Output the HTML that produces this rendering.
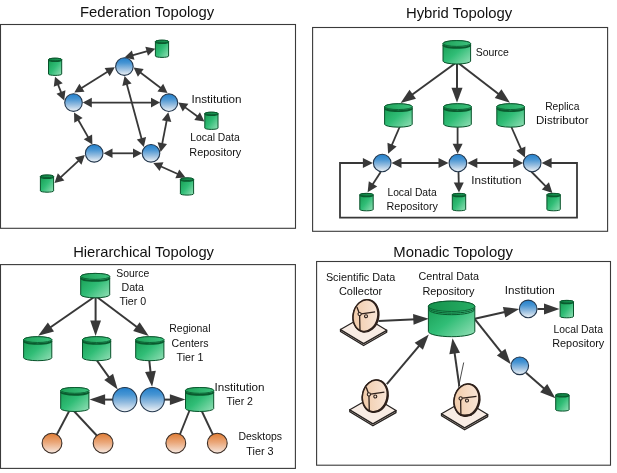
<!DOCTYPE html>
<html lang="en">
<head>
<meta charset="utf-8">
<title>Data Topologies</title>
<style>
html,body{margin:0;padding:0;background:#fff;}
body{width:617px;height:473px;overflow:hidden;}
svg{display:block;font-family:"Liberation Sans",sans-serif;will-change:transform;opacity:0.999;filter:blur(0.4px);}
</style>
</head>
<body>
<svg width="617" height="473" viewBox="0 0 617 473">
<defs>
<linearGradient id="gb" x1="0" y1="0" x2="0" y2="1"><stop offset="0" stop-color="#217fcb"/><stop offset="0.3" stop-color="#4895d3"/><stop offset="0.62" stop-color="#94bcdf"/><stop offset="1" stop-color="#f0f3f6"/></linearGradient>
<linearGradient id="go" x1="0" y1="0" x2="0" y2="1"><stop offset="0" stop-color="#df7c34"/><stop offset="0.45" stop-color="#eaa678"/><stop offset="1" stop-color="#f6e8e0"/></linearGradient>
<linearGradient id="gg" x1="0" y1="0" x2="1" y2="1"><stop offset="0" stop-color="#14994e"/><stop offset="0.5" stop-color="#30bd76"/><stop offset="1" stop-color="#96e0b8"/></linearGradient>
<linearGradient id="gt" x1="0" y1="0" x2="1" y2="0"><stop offset="0" stop-color="#1fa35a"/><stop offset="1" stop-color="#3cc07c"/></linearGradient>
<linearGradient id="gt2" x1="0" y1="0" x2="1" y2="0"><stop offset="0" stop-color="#0f7d42"/><stop offset="1" stop-color="#1a9a55"/></linearGradient>
<linearGradient id="gt3" x1="0" y1="0" x2="1" y2="0"><stop offset="0" stop-color="#15924c"/><stop offset="1" stop-color="#27ad64"/></linearGradient>
<linearGradient id="gd" x1="0" y1="0.6" x2="1" y2="0.3"><stop offset="0" stop-color="#f1cba9"/><stop offset="1" stop-color="#f9e6d8"/></linearGradient>
</defs>
<rect width="617" height="473" fill="#fff"/>
<rect x="0.5" y="24.5" width="295.00" height="203.80" fill="#fff" stroke="#3a3a3a" stroke-width="1.1"/>
<rect x="312.6" y="27.5" width="295.00" height="203.80" fill="#fff" stroke="#3a3a3a" stroke-width="1.1"/>
<rect x="0.5" y="264.6" width="294.90" height="203.80" fill="#fff" stroke="#3a3a3a" stroke-width="1.1"/>
<rect x="316.6" y="261.5" width="293.90" height="203.70" fill="#fff" stroke="#3a3a3a" stroke-width="1.1"/>
<text x="80.0" y="17.2" font-size="14.8" text-anchor="start" textLength="134.2" lengthAdjust="spacingAndGlyphs" fill="#111">Federation Topology</text>
<text x="405.9" y="17.6" font-size="14.8" text-anchor="start" textLength="106.4" lengthAdjust="spacingAndGlyphs" fill="#111">Hybrid Topology</text>
<text x="73.2" y="256.9" font-size="14.8" text-anchor="start" textLength="140.8" lengthAdjust="spacingAndGlyphs" fill="#111">Hierarchical Topology</text>
<text x="393.3" y="257.3" font-size="14.8" text-anchor="start" textLength="119.6" lengthAdjust="spacingAndGlyphs" fill="#111">Monadic Topology</text>
<line x1="131.43" y1="55.54" x2="148.37" y2="50.76" stroke="#383838" stroke-width="1.8"/>
<polygon points="155.30,48.80 147.94,55.87 145.33,46.63" fill="#383838"/>
<polygon points="124.50,57.50 134.47,59.67 131.86,50.43" fill="#383838"/>
<line x1="139.35" y1="71.83" x2="161.75" y2="88.67" stroke="#383838" stroke-width="1.8"/>
<polygon points="167.50,93.00 157.42,91.43 163.19,83.75" fill="#383838"/>
<polygon points="133.60,67.50 137.91,76.75 143.68,69.07" fill="#383838"/>
<line x1="108.69" y1="71.10" x2="80.41" y2="88.70" stroke="#383838" stroke-width="1.8"/>
<polygon points="74.30,92.50 79.41,83.67 84.48,91.82" fill="#383838"/>
<polygon points="114.80,67.30 104.62,67.98 109.69,76.13" fill="#383838"/>
<line x1="126.48" y1="82.95" x2="141.92" y2="140.05" stroke="#383838" stroke-width="1.8"/>
<polygon points="143.80,147.00 136.82,139.57 146.08,137.06" fill="#383838"/>
<polygon points="124.60,76.00 122.32,85.94 131.58,83.43" fill="#383838"/>
<line x1="90.00" y1="102.60" x2="152.80" y2="102.60" stroke="#383838" stroke-width="1.8"/>
<polygon points="160.00,102.60 151.00,107.40 151.00,97.80" fill="#383838"/>
<polygon points="82.80,102.60 91.80,107.40 91.80,97.80" fill="#383838"/>
<line x1="77.58" y1="118.75" x2="88.82" y2="138.35" stroke="#383838" stroke-width="1.8"/>
<polygon points="92.40,144.60 83.76,139.18 92.09,134.40" fill="#383838"/>
<polygon points="74.00,112.50 74.31,122.70 82.64,117.92" fill="#383838"/>
<line x1="61.60" y1="93.78" x2="57.60" y2="83.42" stroke="#383838" stroke-width="1.8"/>
<polygon points="55.00,76.70 62.72,83.36 53.77,86.83" fill="#383838"/>
<polygon points="64.20,100.50 65.43,90.37 56.48,93.84" fill="#383838"/>
<line x1="166.93" y1="119.37" x2="161.97" y2="144.93" stroke="#383838" stroke-width="1.8"/>
<polygon points="160.60,152.00 157.60,142.25 167.03,144.08" fill="#383838"/>
<polygon points="168.30,112.30 161.87,120.22 171.30,122.05" fill="#383838"/>
<line x1="184.12" y1="106.64" x2="198.58" y2="117.16" stroke="#383838" stroke-width="1.8"/>
<polygon points="204.40,121.40 194.30,119.98 199.95,112.22" fill="#383838"/>
<polygon points="178.30,102.40 182.75,111.58 188.40,103.82" fill="#383838"/>
<line x1="110.70" y1="153.30" x2="134.80" y2="153.30" stroke="#383838" stroke-width="1.8"/>
<polygon points="142.00,153.30 133.00,158.10 133.00,148.50" fill="#383838"/>
<polygon points="103.50,153.30 112.50,158.10 112.50,148.50" fill="#383838"/>
<line x1="79.51" y1="159.89" x2="59.79" y2="178.11" stroke="#383838" stroke-width="1.8"/>
<polygon points="54.50,183.00 57.85,173.37 64.37,180.42" fill="#383838"/>
<polygon points="84.80,155.00 74.93,157.58 81.45,164.63" fill="#383838"/>
<line x1="159.87" y1="165.96" x2="178.93" y2="174.54" stroke="#383838" stroke-width="1.8"/>
<polygon points="185.50,177.50 175.32,178.18 179.26,169.43" fill="#383838"/>
<polygon points="153.30,163.00 159.54,171.07 163.48,162.32" fill="#383838"/>
<circle cx="124.4" cy="66.6" r="8.8" fill="url(#gb)" stroke="#22364c" stroke-width="1.1"/>
<circle cx="73.5" cy="102.6" r="8.8" fill="url(#gb)" stroke="#22364c" stroke-width="1.1"/>
<circle cx="168.9" cy="102.7" r="8.8" fill="url(#gb)" stroke="#22364c" stroke-width="1.1"/>
<circle cx="94.2" cy="153.3" r="8.8" fill="url(#gb)" stroke="#22364c" stroke-width="1.1"/>
<circle cx="151" cy="153.3" r="8.8" fill="url(#gb)" stroke="#22364c" stroke-width="1.1"/>
<path d="M155.40,41.50 L155.40,56.10 A6.60,1.30 0 0 0 168.60,56.10 L168.60,41.50 A6.60,1.30 0 0 0 155.40,41.50 Z" fill="url(#gg)" stroke="#08522a" stroke-width="1"/>
<ellipse cx="162.00" cy="41.50" rx="6.60" ry="1.30" fill="url(#gt2)" stroke="#08522a" stroke-width="0.8"/>
<path d="M155.70,42.10 A6.30,1.30 0 0 0 168.30,42.10" fill="none" stroke="#0a5a2e" stroke-width="1.4"/>
<path d="M48.50,59.50 L48.50,74.10 A6.60,1.30 0 0 0 61.70,74.10 L61.70,59.50 A6.60,1.30 0 0 0 48.50,59.50 Z" fill="url(#gg)" stroke="#08522a" stroke-width="1"/>
<ellipse cx="55.10" cy="59.50" rx="6.60" ry="1.30" fill="url(#gt2)" stroke="#08522a" stroke-width="0.8"/>
<path d="M48.80,60.10 A6.30,1.30 0 0 0 61.40,60.10" fill="none" stroke="#0a5a2e" stroke-width="1.4"/>
<path d="M204.80,113.50 L204.80,128.10 A6.60,1.30 0 0 0 218.00,128.10 L218.00,113.50 A6.60,1.30 0 0 0 204.80,113.50 Z" fill="url(#gg)" stroke="#08522a" stroke-width="1"/>
<ellipse cx="211.40" cy="113.50" rx="6.60" ry="1.30" fill="url(#gt2)" stroke="#08522a" stroke-width="0.8"/>
<path d="M205.10,114.10 A6.30,1.30 0 0 0 217.70,114.10" fill="none" stroke="#0a5a2e" stroke-width="1.4"/>
<path d="M40.40,176.30 L40.40,190.90 A6.60,1.30 0 0 0 53.60,190.90 L53.60,176.30 A6.60,1.30 0 0 0 40.40,176.30 Z" fill="url(#gg)" stroke="#08522a" stroke-width="1"/>
<ellipse cx="47.00" cy="176.30" rx="6.60" ry="1.30" fill="url(#gt2)" stroke="#08522a" stroke-width="0.8"/>
<path d="M40.70,176.90 A6.30,1.30 0 0 0 53.30,176.90" fill="none" stroke="#0a5a2e" stroke-width="1.4"/>
<path d="M180.40,179.20 L180.40,193.80 A6.60,1.30 0 0 0 193.60,193.80 L193.60,179.20 A6.60,1.30 0 0 0 180.40,179.20 Z" fill="url(#gg)" stroke="#08522a" stroke-width="1"/>
<ellipse cx="187.00" cy="179.20" rx="6.60" ry="1.30" fill="url(#gt2)" stroke="#08522a" stroke-width="0.8"/>
<path d="M180.70,179.80 A6.30,1.30 0 0 0 193.30,179.80" fill="none" stroke="#0a5a2e" stroke-width="1.4"/>
<text x="191.5" y="103.0" font-size="11.4" text-anchor="start" textLength="50.0" lengthAdjust="spacingAndGlyphs" fill="#111">Institution</text>
<text x="190.2" y="140.8" font-size="11.4" text-anchor="start" textLength="49.5" lengthAdjust="spacingAndGlyphs" fill="#111">Local Data</text>
<text x="189.3" y="155.5" font-size="11.4" text-anchor="start" textLength="52.0" lengthAdjust="spacingAndGlyphs" fill="#111">Repository</text>
<line x1="457.00" y1="62.00" x2="410.31" y2="95.94" stroke="#383838" stroke-width="2.0"/>
<polygon points="400.60,103.00 409.50,89.73 415.97,98.63" fill="#383838"/>
<line x1="457.00" y1="62.00" x2="457.00" y2="90.80" stroke="#383838" stroke-width="2.0"/>
<polygon points="457.00,102.80 451.50,87.80 462.50,87.80" fill="#383838"/>
<line x1="457.00" y1="62.00" x2="500.49" y2="95.48" stroke="#383838" stroke-width="2.0"/>
<polygon points="510.00,102.80 494.76,98.01 501.47,89.29" fill="#383838"/>
<line x1="400.50" y1="125.00" x2="391.26" y2="146.45" stroke="#383838" stroke-width="1.8"/>
<polygon points="388.10,153.80 387.46,142.64 396.65,146.59" fill="#383838"/>
<line x1="457.60" y1="125.00" x2="457.60" y2="145.80" stroke="#383838" stroke-width="1.8"/>
<polygon points="457.60,153.80 452.60,143.80 462.60,143.80" fill="#383838"/>
<line x1="510.50" y1="125.00" x2="521.67" y2="150.28" stroke="#383838" stroke-width="1.8"/>
<polygon points="524.90,157.60 516.29,150.47 525.43,146.43" fill="#383838"/>
<line x1="399.50" y1="163.00" x2="440.50" y2="163.00" stroke="#383838" stroke-width="1.8"/>
<polygon points="448.50,163.00 438.50,168.00 438.50,158.00" fill="#383838"/>
<polygon points="391.50,163.00 401.50,168.00 401.50,158.00" fill="#383838"/>
<line x1="475.30" y1="163.00" x2="515.20" y2="163.00" stroke="#383838" stroke-width="1.8"/>
<polygon points="523.20,163.00 513.20,168.00 513.20,158.00" fill="#383838"/>
<polygon points="467.30,163.00 477.30,168.00 477.30,158.00" fill="#383838"/>
<line x1="380.70" y1="172.00" x2="371.94" y2="185.58" stroke="#383838" stroke-width="1.8"/>
<polygon points="367.60,192.30 368.82,181.19 377.22,186.61" fill="#383838"/>
<line x1="458.50" y1="172.00" x2="458.80" y2="184.50" stroke="#383838" stroke-width="1.8"/>
<polygon points="459.00,192.50 453.76,182.62 463.75,182.38" fill="#383838"/>
<line x1="531.20" y1="171.50" x2="546.78" y2="187.30" stroke="#383838" stroke-width="1.8"/>
<polygon points="552.40,193.00 541.82,189.39 548.94,182.37" fill="#383838"/>
<path d="M366,163 L340,163 L340,217.7 L577,217.7 L577,163 L548,163" fill="none" stroke="#383838" stroke-width="1.8" stroke-linejoin="miter"/>
<line x1="360.00" y1="163.00" x2="364.90" y2="163.00" stroke="#383838" stroke-width="1.8"/>
<polygon points="372.90,163.00 362.90,168.00 362.90,158.00" fill="#383838"/>
<line x1="556.00" y1="163.00" x2="549.60" y2="163.00" stroke="#383838" stroke-width="1.8"/>
<polygon points="541.60,163.00 551.60,158.00 551.60,168.00" fill="#383838"/>
<path d="M443.00,43.50 L443.00,61.10 A13.80,2.90 0 0 0 470.60,61.10 L470.60,43.50 A13.80,2.90 0 0 0 443.00,43.50 Z" fill="url(#gg)" stroke="#08522a" stroke-width="1"/>
<ellipse cx="456.80" cy="43.50" rx="13.80" ry="2.90" fill="url(#gt)" stroke="#08522a" stroke-width="0.8"/>
<path d="M443.30,45.00 A13.50,2.90 0 0 0 470.30,45.00" fill="none" stroke="#0a5a2e" stroke-width="1.7"/>
<path d="M384.60,106.65 L384.60,124.25 A13.80,2.90 0 0 0 412.20,124.25 L412.20,106.65 A13.80,2.90 0 0 0 384.60,106.65 Z" fill="url(#gg)" stroke="#08522a" stroke-width="1"/>
<ellipse cx="398.40" cy="106.65" rx="13.80" ry="2.90" fill="url(#gt)" stroke="#08522a" stroke-width="0.8"/>
<path d="M384.90,108.15 A13.50,2.90 0 0 0 411.90,108.15" fill="none" stroke="#0a5a2e" stroke-width="1.7"/>
<path d="M443.70,106.65 L443.70,124.25 A13.80,2.90 0 0 0 471.30,124.25 L471.30,106.65 A13.80,2.90 0 0 0 443.70,106.65 Z" fill="url(#gg)" stroke="#08522a" stroke-width="1"/>
<ellipse cx="457.50" cy="106.65" rx="13.80" ry="2.90" fill="url(#gt)" stroke="#08522a" stroke-width="0.8"/>
<path d="M444.00,108.15 A13.50,2.90 0 0 0 471.00,108.15" fill="none" stroke="#0a5a2e" stroke-width="1.7"/>
<path d="M496.80,106.65 L496.80,124.25 A13.80,2.90 0 0 0 524.40,124.25 L524.40,106.65 A13.80,2.90 0 0 0 496.80,106.65 Z" fill="url(#gg)" stroke="#08522a" stroke-width="1"/>
<ellipse cx="510.60" cy="106.65" rx="13.80" ry="2.90" fill="url(#gt)" stroke="#08522a" stroke-width="0.8"/>
<path d="M497.10,108.15 A13.50,2.90 0 0 0 524.10,108.15" fill="none" stroke="#0a5a2e" stroke-width="1.7"/>
<circle cx="382.2" cy="163" r="8.8" fill="url(#gb)" stroke="#22364c" stroke-width="1.1"/>
<circle cx="457.9" cy="163" r="8.8" fill="url(#gb)" stroke="#22364c" stroke-width="1.1"/>
<circle cx="532.2" cy="163" r="8.8" fill="url(#gb)" stroke="#22364c" stroke-width="1.1"/>
<path d="M359.80,194.70 L359.80,209.50 A6.70,1.30 0 0 0 373.20,209.50 L373.20,194.70 A6.70,1.30 0 0 0 359.80,194.70 Z" fill="url(#gg)" stroke="#08522a" stroke-width="1"/>
<ellipse cx="366.50" cy="194.70" rx="6.70" ry="1.30" fill="url(#gt2)" stroke="#08522a" stroke-width="0.8"/>
<path d="M360.10,195.30 A6.40,1.30 0 0 0 372.90,195.30" fill="none" stroke="#0a5a2e" stroke-width="1.4"/>
<path d="M452.30,194.70 L452.30,209.50 A6.70,1.30 0 0 0 465.70,209.50 L465.70,194.70 A6.70,1.30 0 0 0 452.30,194.70 Z" fill="url(#gg)" stroke="#08522a" stroke-width="1"/>
<ellipse cx="459.00" cy="194.70" rx="6.70" ry="1.30" fill="url(#gt2)" stroke="#08522a" stroke-width="0.8"/>
<path d="M452.60,195.30 A6.40,1.30 0 0 0 465.40,195.30" fill="none" stroke="#0a5a2e" stroke-width="1.4"/>
<path d="M546.90,194.70 L546.90,209.50 A6.70,1.30 0 0 0 560.30,209.50 L560.30,194.70 A6.70,1.30 0 0 0 546.90,194.70 Z" fill="url(#gg)" stroke="#08522a" stroke-width="1"/>
<ellipse cx="553.60" cy="194.70" rx="6.70" ry="1.30" fill="url(#gt2)" stroke="#08522a" stroke-width="0.8"/>
<path d="M547.20,195.30 A6.40,1.30 0 0 0 560.00,195.30" fill="none" stroke="#0a5a2e" stroke-width="1.4"/>
<text x="475.7" y="56.1" font-size="11.4" text-anchor="start" textLength="33.2" lengthAdjust="spacingAndGlyphs" fill="#111">Source</text>
<text x="545.2" y="110.0" font-size="11.4" text-anchor="start" textLength="34.2" lengthAdjust="spacingAndGlyphs" fill="#111">Replica</text>
<text x="536.0" y="123.7" font-size="11.4" text-anchor="start" textLength="52.5" lengthAdjust="spacingAndGlyphs" fill="#111">Distributor</text>
<text x="471.3" y="184.3" font-size="11.4" text-anchor="start" textLength="50.2" lengthAdjust="spacingAndGlyphs" fill="#111">Institution</text>
<text x="387.4" y="196.3" font-size="11.4" text-anchor="start" textLength="49.3" lengthAdjust="spacingAndGlyphs" fill="#111">Local Data</text>
<text x="386.4" y="210.3" font-size="11.4" text-anchor="start" textLength="51.6" lengthAdjust="spacingAndGlyphs" fill="#111">Repository</text>
<line x1="95.60" y1="296.00" x2="48.39" y2="328.73" stroke="#383838" stroke-width="2.0"/>
<polygon points="38.20,335.80 47.86,322.53 54.01,331.41" fill="#383838"/>
<line x1="95.60" y1="296.00" x2="95.60" y2="323.60" stroke="#383838" stroke-width="2.0"/>
<polygon points="95.60,336.00 90.20,320.50 101.00,320.50" fill="#383838"/>
<line x1="95.60" y1="296.00" x2="138.89" y2="328.55" stroke="#383838" stroke-width="2.0"/>
<polygon points="148.80,336.00 133.17,331.00 139.66,322.37" fill="#383838"/>
<line x1="96.20" y1="359.50" x2="110.46" y2="379.33" stroke="#383838" stroke-width="2.0"/>
<polygon points="117.70,389.40 104.27,379.97 113.04,373.66" fill="#383838"/>
<line x1="149.20" y1="359.50" x2="150.79" y2="374.47" stroke="#383838" stroke-width="2.0"/>
<polygon points="152.10,386.80 145.09,371.96 155.83,370.82" fill="#383838"/>
<line x1="113.00" y1="399.60" x2="102.00" y2="399.60" stroke="#383838" stroke-width="2.0"/>
<polygon points="89.60,399.60 105.10,394.20 105.10,405.00" fill="#383838"/>
<line x1="164.00" y1="399.60" x2="173.00" y2="399.60" stroke="#383838" stroke-width="2.0"/>
<polygon points="185.40,399.60 169.90,405.00 169.90,394.20" fill="#383838"/>
<line x1="70.8" y1="408" x2="55" y2="438" stroke="#383838" stroke-width="1.9"/>
<line x1="71.1" y1="408" x2="100" y2="439" stroke="#383838" stroke-width="1.9"/>
<line x1="190.5" y1="408" x2="178.5" y2="438" stroke="#383838" stroke-width="1.9"/>
<line x1="200.3" y1="408" x2="214.5" y2="438" stroke="#383838" stroke-width="1.9"/>
<path d="M80.70,276.40 L80.70,294.80 A14.50,3.00 0 0 0 109.70,294.80 L109.70,276.40 A14.50,3.00 0 0 0 80.70,276.40 Z" fill="url(#gg)" stroke="#08522a" stroke-width="1"/>
<ellipse cx="95.20" cy="276.40" rx="14.50" ry="3.00" fill="url(#gt)" stroke="#08522a" stroke-width="0.8"/>
<path d="M81.00,277.90 A14.20,3.00 0 0 0 109.40,277.90" fill="none" stroke="#0a5a2e" stroke-width="1.7"/>
<path d="M23.60,339.60 L23.60,357.80 A14.10,2.90 0 0 0 51.80,357.80 L51.80,339.60 A14.10,2.90 0 0 0 23.60,339.60 Z" fill="url(#gg)" stroke="#08522a" stroke-width="1"/>
<ellipse cx="37.70" cy="339.60" rx="14.10" ry="2.90" fill="url(#gt)" stroke="#08522a" stroke-width="0.8"/>
<path d="M23.90,341.10 A13.80,2.90 0 0 0 51.50,341.10" fill="none" stroke="#0a5a2e" stroke-width="1.7"/>
<path d="M82.50,339.60 L82.50,357.80 A14.10,2.90 0 0 0 110.70,357.80 L110.70,339.60 A14.10,2.90 0 0 0 82.50,339.60 Z" fill="url(#gg)" stroke="#08522a" stroke-width="1"/>
<ellipse cx="96.60" cy="339.60" rx="14.10" ry="2.90" fill="url(#gt)" stroke="#08522a" stroke-width="0.8"/>
<path d="M82.80,341.10 A13.80,2.90 0 0 0 110.40,341.10" fill="none" stroke="#0a5a2e" stroke-width="1.7"/>
<path d="M135.70,339.60 L135.70,357.80 A14.10,2.90 0 0 0 163.90,357.80 L163.90,339.60 A14.10,2.90 0 0 0 135.70,339.60 Z" fill="url(#gg)" stroke="#08522a" stroke-width="1"/>
<ellipse cx="149.80" cy="339.60" rx="14.10" ry="2.90" fill="url(#gt)" stroke="#08522a" stroke-width="0.8"/>
<path d="M136.00,341.10 A13.80,2.90 0 0 0 163.60,341.10" fill="none" stroke="#0a5a2e" stroke-width="1.7"/>
<path d="M60.70,390.40 L60.70,408.60 A14.10,2.90 0 0 0 88.90,408.60 L88.90,390.40 A14.10,2.90 0 0 0 60.70,390.40 Z" fill="url(#gg)" stroke="#08522a" stroke-width="1"/>
<ellipse cx="74.80" cy="390.40" rx="14.10" ry="2.90" fill="url(#gt)" stroke="#08522a" stroke-width="0.8"/>
<path d="M61.00,391.90 A13.80,2.90 0 0 0 88.60,391.90" fill="none" stroke="#0a5a2e" stroke-width="1.7"/>
<path d="M185.50,390.40 L185.50,408.60 A14.10,2.90 0 0 0 213.70,408.60 L213.70,390.40 A14.10,2.90 0 0 0 185.50,390.40 Z" fill="url(#gg)" stroke="#08522a" stroke-width="1"/>
<ellipse cx="199.60" cy="390.40" rx="14.10" ry="2.90" fill="url(#gt)" stroke="#08522a" stroke-width="0.8"/>
<path d="M185.80,391.90 A13.80,2.90 0 0 0 213.40,391.90" fill="none" stroke="#0a5a2e" stroke-width="1.7"/>
<circle cx="124.8" cy="399.6" r="12.1" fill="url(#gb)" stroke="#22364c" stroke-width="1.1"/>
<circle cx="152.3" cy="399.6" r="12.1" fill="url(#gb)" stroke="#22364c" stroke-width="1.1"/>
<circle cx="52" cy="443.2" r="9.9" fill="url(#go)" stroke="#3a2c24" stroke-width="1.1"/>
<circle cx="103.1" cy="443.2" r="9.9" fill="url(#go)" stroke="#3a2c24" stroke-width="1.1"/>
<circle cx="175.8" cy="443.2" r="9.9" fill="url(#go)" stroke="#3a2c24" stroke-width="1.1"/>
<circle cx="217.3" cy="443.2" r="9.9" fill="url(#go)" stroke="#3a2c24" stroke-width="1.1"/>
<text x="116.3" y="276.7" font-size="11.4" text-anchor="start" textLength="33.0" lengthAdjust="spacingAndGlyphs" fill="#111">Source</text>
<text x="121.5" y="291.0" font-size="11.4" text-anchor="start" textLength="22.5" lengthAdjust="spacingAndGlyphs" fill="#111">Data</text>
<text x="119.4" y="305.3" font-size="11.4" text-anchor="start" textLength="26.8" lengthAdjust="spacingAndGlyphs" fill="#111">Tier 0</text>
<text x="169.3" y="332.0" font-size="11.4" text-anchor="start" textLength="41.2" lengthAdjust="spacingAndGlyphs" fill="#111">Regional</text>
<text x="171.5" y="346.7" font-size="11.4" text-anchor="start" textLength="37.0" lengthAdjust="spacingAndGlyphs" fill="#111">Centers</text>
<text x="176.5" y="360.6" font-size="11.4" text-anchor="start" textLength="27.0" lengthAdjust="spacingAndGlyphs" fill="#111">Tier 1</text>
<text x="214.5" y="390.6" font-size="11.4" text-anchor="start" textLength="50.0" lengthAdjust="spacingAndGlyphs" fill="#111">Institution</text>
<text x="226.4" y="404.9" font-size="11.4" text-anchor="start" textLength="26.6" lengthAdjust="spacingAndGlyphs" fill="#111">Tier 2</text>
<text x="238.5" y="440.4" font-size="11.4" text-anchor="start" textLength="43.6" lengthAdjust="spacingAndGlyphs" fill="#111">Desktops</text>
<text x="246.3" y="454.6" font-size="11.4" text-anchor="start" textLength="27.3" lengthAdjust="spacingAndGlyphs" fill="#111">Tier 3</text>
<line x1="378.50" y1="321.10" x2="416.41" y2="319.29" stroke="#383838" stroke-width="2.0"/>
<polygon points="428.80,318.70 413.57,324.83 413.06,314.04" fill="#383838"/>
<line x1="386.80" y1="384.10" x2="420.80" y2="343.87" stroke="#383838" stroke-width="2.0"/>
<polygon points="428.80,334.40 422.92,349.72 414.67,342.75" fill="#383838"/>
<line x1="459.30" y1="386.20" x2="454.24" y2="350.48" stroke="#383838" stroke-width="2.0"/>
<polygon points="452.50,338.20 460.02,352.79 449.33,354.30" fill="#383838"/>
<line x1="463.7" y1="362.5" x2="458.4" y2="387.7" stroke="#383838" stroke-width="0.9"/>
<line x1="474.80" y1="318.80" x2="507.10" y2="311.60" stroke="#383838" stroke-width="2.0"/>
<polygon points="519.20,308.90 505.25,317.54 502.90,307.00" fill="#383838"/>
<line x1="474.80" y1="319.20" x2="503.06" y2="354.61" stroke="#383838" stroke-width="2.0"/>
<polygon points="510.80,364.30 496.91,355.55 505.35,348.82" fill="#383838"/>
<line x1="537.50" y1="309.00" x2="547.10" y2="309.00" stroke="#383838" stroke-width="2.0"/>
<polygon points="559.50,309.00 544.00,314.40 544.00,303.60" fill="#383838"/>
<line x1="526.00" y1="372.80" x2="546.03" y2="390.18" stroke="#383838" stroke-width="2.0"/>
<polygon points="555.40,398.30 540.15,392.22 547.23,384.06" fill="#383838"/>
<path d="M428.40,306.30 L428.40,331.50 A23.20,5.20 0 0 0 474.80,331.50 L474.80,306.30 A23.20,5.20 0 0 0 428.40,306.30 Z" fill="url(#gg)" stroke="#08522a" stroke-width="1"/>
<ellipse cx="451.60" cy="306.30" rx="23.20" ry="5.20" fill="url(#gt3)" stroke="#08522a" stroke-width="0.8"/>
<path d="M428.70,307.90 A22.90,5.20 0 0 0 474.50,307.90" fill="none" stroke="#0a5a2e" stroke-width="1.0"/>
<path d="M428.70,309.50 A22.90,5.20 0 0 0 474.50,309.50" fill="none" stroke="#0a5a2e" stroke-width="1.0"/>
<g transform="translate(365.5,315.6)">
<path d="M-25.0,13.8 L-25.0,15.9 L-1.9,29.900000000000002 L21.2,16.7 L21.2,14.6 L-1.9,27.8 Z" fill="#c8bcb4" stroke="#262220" stroke-width="1.3" stroke-linejoin="round"/>
<path d="M-25.0,13.8 L-1.9000000000000008,0.5999999999999979 L21.2,14.6 L-1.9,27.8 Z" fill="#f8ece4" stroke="#262220" stroke-width="1.2" stroke-linejoin="round"/>
<ellipse cx="0.5" cy="0.2" rx="12.7" ry="16.2" transform="rotate(12)" fill="#2e201a" stroke="#2e201a" stroke-width="1.6"/>
<ellipse cx="0" cy="0" rx="12.3" ry="15.9" transform="rotate(12)" fill="url(#gd)" stroke="#2e201a" stroke-width="1.5"/>
<path d="M-8.6,-8.6 L-5.9,-1.5 L-5.5,14.6 M-5.9,-1.5 L9.6,-3.8" fill="none" stroke="#2e201a" stroke-width="1.3"/>
<circle cx="-5.9" cy="-1.5" r="1.6" fill="#f7e2d0" stroke="#2e201a" stroke-width="1.1"/>
<circle cx="0.5" cy="0.6" r="1.5" fill="#f7e2d0" stroke="#2e201a" stroke-width="1.1"/>
</g>
<g transform="translate(374.8,395.9)">
<path d="M-25.0,13.8 L-25.0,15.9 L-1.9,29.900000000000002 L21.2,16.7 L21.2,14.6 L-1.9,27.8 Z" fill="#c8bcb4" stroke="#262220" stroke-width="1.3" stroke-linejoin="round"/>
<path d="M-25.0,13.8 L-1.9000000000000008,0.5999999999999979 L21.2,14.6 L-1.9,27.8 Z" fill="#f8ece4" stroke="#262220" stroke-width="1.2" stroke-linejoin="round"/>
<ellipse cx="0.5" cy="0.2" rx="12.7" ry="16.2" transform="rotate(12)" fill="#2e201a" stroke="#2e201a" stroke-width="1.6"/>
<ellipse cx="0" cy="0" rx="12.3" ry="15.9" transform="rotate(12)" fill="url(#gd)" stroke="#2e201a" stroke-width="1.5"/>
<path d="M-8.6,-8.6 L-5.9,-1.5 L-5.5,14.6 M-5.9,-1.5 L9.6,-3.8" fill="none" stroke="#2e201a" stroke-width="1.3"/>
<circle cx="-5.9" cy="-1.5" r="1.6" fill="#f7e2d0" stroke="#2e201a" stroke-width="1.1"/>
<circle cx="0.5" cy="0.6" r="1.5" fill="#f7e2d0" stroke="#2e201a" stroke-width="1.1"/>
</g>
<g transform="translate(466.5,399.9)">
<path d="M-25.0,13.8 L-25.0,15.9 L-1.9,29.900000000000002 L21.2,16.7 L21.2,14.6 L-1.9,27.8 Z" fill="#c8bcb4" stroke="#262220" stroke-width="1.3" stroke-linejoin="round"/>
<path d="M-25.0,13.8 L-1.9000000000000008,0.5999999999999979 L21.2,14.6 L-1.9,27.8 Z" fill="#f8ece4" stroke="#262220" stroke-width="1.2" stroke-linejoin="round"/>
<ellipse cx="0.5" cy="0.2" rx="12.7" ry="16.2" transform="rotate(12)" fill="#2e201a" stroke="#2e201a" stroke-width="1.6"/>
<ellipse cx="0" cy="0" rx="12.3" ry="15.9" transform="rotate(12)" fill="url(#gd)" stroke="#2e201a" stroke-width="1.5"/>
<path d="M-5.9,-1.5 L-5.6,15.3 L5.5,15 M-5.9,-1.5 L10,-3.6" fill="none" stroke="#2e201a" stroke-width="1.3"/>
<circle cx="-5.9" cy="-1.5" r="1.6" fill="#f7e2d0" stroke="#2e201a" stroke-width="1.1"/>
<circle cx="0.5" cy="0.6" r="1.5" fill="#f7e2d0" stroke="#2e201a" stroke-width="1.1"/>
</g>
<circle cx="528.2" cy="308.9" r="8.8" fill="url(#gb)" stroke="#22364c" stroke-width="1.1"/>
<circle cx="519.8" cy="365.8" r="8.8" fill="url(#gb)" stroke="#22364c" stroke-width="1.1"/>
<path d="M560.10,301.70 L560.10,316.50 A6.70,1.30 0 0 0 573.50,316.50 L573.50,301.70 A6.70,1.30 0 0 0 560.10,301.70 Z" fill="url(#gg)" stroke="#08522a" stroke-width="1"/>
<ellipse cx="566.80" cy="301.70" rx="6.70" ry="1.30" fill="url(#gt2)" stroke="#08522a" stroke-width="0.8"/>
<path d="M560.40,302.30 A6.40,1.30 0 0 0 573.20,302.30" fill="none" stroke="#0a5a2e" stroke-width="1.4"/>
<path d="M555.70,395.00 L555.70,409.80 A6.70,1.30 0 0 0 569.10,409.80 L569.10,395.00 A6.70,1.30 0 0 0 555.70,395.00 Z" fill="url(#gg)" stroke="#08522a" stroke-width="1"/>
<ellipse cx="562.40" cy="395.00" rx="6.70" ry="1.30" fill="url(#gt2)" stroke="#08522a" stroke-width="0.8"/>
<path d="M556.00,395.60 A6.40,1.30 0 0 0 568.80,395.60" fill="none" stroke="#0a5a2e" stroke-width="1.4"/>
<text x="325.9" y="280.6" font-size="11.4" text-anchor="start" textLength="69.3" lengthAdjust="spacingAndGlyphs" fill="#111">Scientific Data</text>
<text x="338.9" y="295.0" font-size="11.4" text-anchor="start" textLength="43.3" lengthAdjust="spacingAndGlyphs" fill="#111">Collector</text>
<text x="418.5" y="280.2" font-size="11.4" text-anchor="start" textLength="60.5" lengthAdjust="spacingAndGlyphs" fill="#111">Central Data</text>
<text x="422.4" y="295.0" font-size="11.4" text-anchor="start" textLength="52.2" lengthAdjust="spacingAndGlyphs" fill="#111">Repository</text>
<text x="504.8" y="293.8" font-size="11.4" text-anchor="start" textLength="50.0" lengthAdjust="spacingAndGlyphs" fill="#111">Institution</text>
<text x="553.5" y="332.5" font-size="11.4" text-anchor="start" textLength="49.5" lengthAdjust="spacingAndGlyphs" fill="#111">Local Data</text>
<text x="552.2" y="346.9" font-size="11.4" text-anchor="start" textLength="52.1" lengthAdjust="spacingAndGlyphs" fill="#111">Repository</text>
</svg>
</body>
</html>
